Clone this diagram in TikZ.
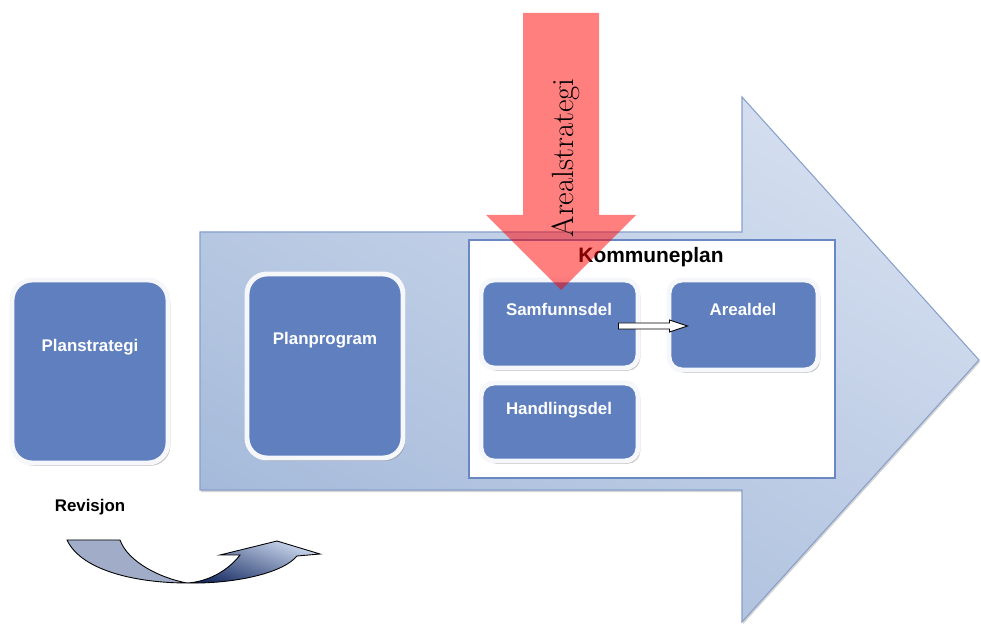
\documentclass[tikz,border=0pt]{standalone}
\usepackage{fontspec}
\setsansfont{Liberation Sans}
\usetikzlibrary{fit,shadows,calc}

\definecolor{boxblue}{RGB}{95,127,190}
\definecolor{boxrim}{RGB}{246,247,250}
\definecolor{arrowdark}{RGB}{165,186,218}
\definecolor{arrowlight}{RGB}{212,222,239}
\definecolor{arrowedge}{RGB}{135,160,203}
\definecolor{planedge}{RGB}{105,135,195}
\definecolor{revgray}{RGB}{160,172,200}
\definecolor{revdark}{RGB}{25,45,100}
\definecolor{revlight}{RGB}{205,218,240}

\begin{document}
\begin{tikzpicture}[x=0.02cm, y=-0.02cm,
    bluebox/.style={rounded corners=0.4cm, fill=boxblue, draw=boxrim, line width=2.8pt, inner sep=0pt,
        drop shadow={shadow xshift=1.3pt, shadow yshift=-1.6pt, opacity=0.45}},
    smallbox/.style={bluebox, rounded corners=0.26cm},
    boxtext/.style={text=white, font=\sffamily\bfseries\fontsize{9.6}{11}\selectfont}]

    \useasboundingbox (0,0) rectangle (981,624);

    \path[draw=arrowedge, line width=0.6pt, top color=arrowlight, bottom color=arrowdark, shading angle=-30,
        drop shadow={shadow xshift=0.6pt, shadow yshift=-1.2pt, opacity=0.35}]
        (200,232) -- (742,232) -- (742,97) -- (979,360) -- (742,622) -- (742,490) -- (200,490) -- cycle;

    \node [draw=planedge, fill=white, line width=0.8pt, inner sep=0pt, fit={(469,240) (835,478)}] (kommuneplan) {};
    \node [font=\sffamily\bfseries\fontsize{11.9}{14}\selectfont] (kommuneplan-title) at (651,257) {Kommuneplan};

    \node [bluebox, fit={(12,280) (168,463)}] (planstrategi) {};
    \node [boxtext] (planstrategi-text) at (90,347) {Planstrategi};
    \node [bluebox, fit={(247,274) (403,458)}] (planprogram) {};
    \node [boxtext] (planprogram-text) at (325,340) {Planprogram};

    \node [smallbox, fit={(481,280) (638,368)}] (samfunnsdel) {};
    \node [boxtext] (samfunnsdel-text) at (559,309) {Samfunnsdel};
    \node [smallbox, fit={(669,280) (818,370)}] (arealdel) {};
    \node [boxtext] (arealdel-text) at (743,309) {Arealdel};
    \node [smallbox, fit={(481,383) (638,461)}] (handlingsdel) {};
    \node [boxtext] (handlingsdel-text) at (559,410) {Handlingsdel};

    \coordinate (flow-from) at ($(samfunnsdel.east)+(-22,2)$);
    \coordinate (flow-to) at ($(arealdel.west)+(21,1)$);
    \draw[fill=white, line width=0.5pt] ($(flow-from)+(0,-3)$) -- ($(flow-to)+(-18,-3)$) -- ($(flow-to)+(-18,-6)$)
        -- (flow-to) -- ($(flow-to)+(-18,6)$) -- ($(flow-to)+(-18,3)$) -- ($(flow-from)+(0,3)$) -- cycle;

    \node [font=\sffamily\bfseries\fontsize{9.6}{11}\selectfont] (revisjon) at (90,507) {Revisjon};
    \draw[fill=revgray, line width=0.5pt] (67,540) .. controls (82,572) and (140,583) .. (187,583)
        .. controls (160,578) and (128,562) .. (120,540) -- cycle;
    \draw[top color=revlight, bottom color=revdark, shading angle=-20, line width=0.5pt]
        (187,583) .. controls (232,584) and (282,574) .. (297,556) -- (320,554) -- (277,541) -- (220,555)
        -- (240,555) .. controls (228,571) and (207,582) .. (187,583) -- cycle;

    \fill[red, opacity=0.5] (523,13) -- (599,13) -- (599,215) -- (636,215) -- (561,290) -- (486,215) -- (523,215) -- cycle;
    \node [rotate=90, font=\fontsize{17.5}{20}\selectfont] (arealstrategi) at (566,158) {Arealstrategi};

\end{tikzpicture}
\end{document}
